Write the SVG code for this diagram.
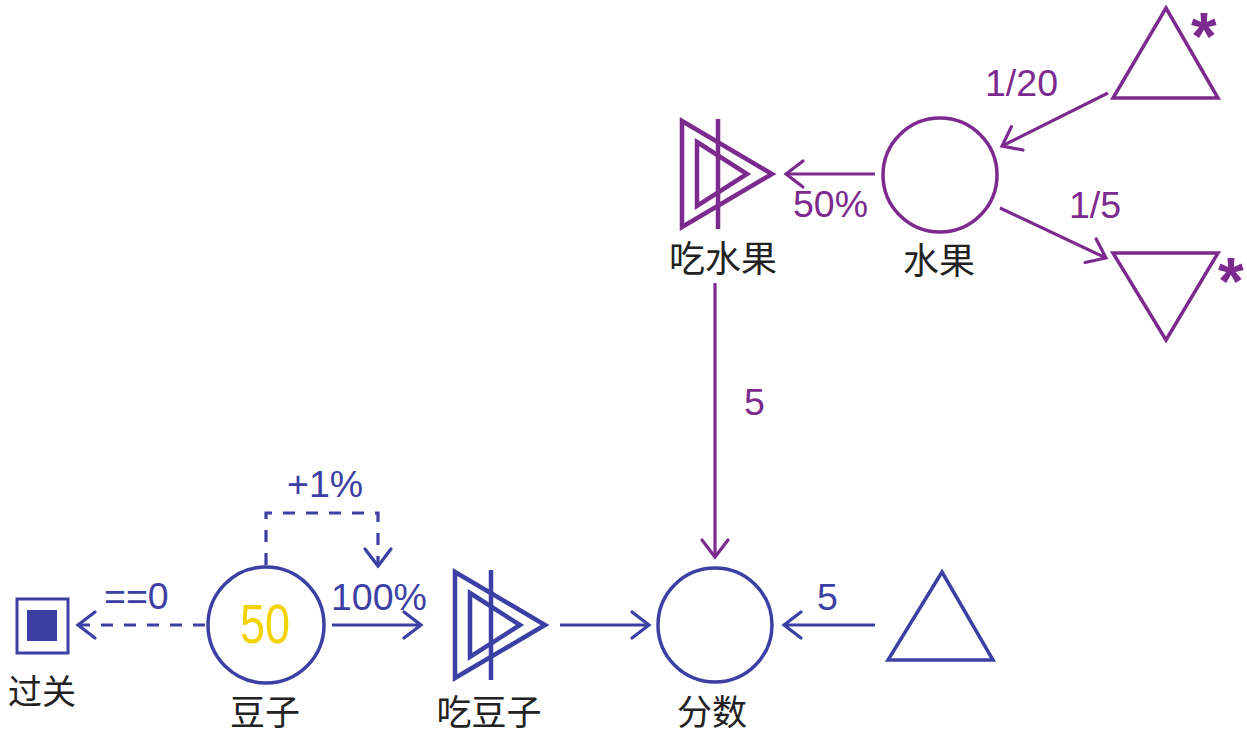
<svg xmlns="http://www.w3.org/2000/svg" xmlns:xlink="http://www.w3.org/1999/xlink" width="1247" height="736" viewBox="0 0 1247 736">
<style>
.p{stroke:#7d2a8e;fill:none}
.b{stroke:#3c3fa3;fill:none}
.shape{stroke-width:3.5}
.conv{stroke-width:4.5}
.line{stroke-width:3.2}
.dash{stroke-dasharray:12 11}
.lbl{font-family:"Liberation Sans",Arial,sans-serif;font-size:37.5px}
.lp{fill:#7d2a8e}
.lb{fill:#3c3fa3}
.cjk{font-family:"Noto Sans CJK SC","Noto Sans CJK TC",sans-serif;font-size:36px;fill:#222;text-anchor:middle}
.star{font-family:"Liberation Sans",Arial,sans-serif;font-weight:bold;font-size:66px;fill:#7d2a8e}
</style>
<defs>
<marker id="ap" markerUnits="userSpaceOnUse" orient="auto" refX="0" refY="0" overflow="visible" markerWidth="1" markerHeight="1">
<path d="M-17,-13 L0,0 L-17,13" fill="none" stroke="#7d2a8e" stroke-width="3.2" stroke-linecap="round"/>
</marker>
<marker id="ab" markerUnits="userSpaceOnUse" orient="auto" refX="0" refY="0" overflow="visible" markerWidth="1" markerHeight="1">
<path d="M-17,-13 L0,0 L-17,13" fill="none" stroke="#3c3fa3" stroke-width="3.2" stroke-linecap="round"/>
</marker>
<g id="converter">
<polygon points="0,-53 90,0 0,53"/>
<polygon points="15,-32 65,0 15,32"/>
<line x1="36" y1="-55" x2="36" y2="55"/>
</g>
</defs>
<rect width="1247" height="736" fill="#ffffff"/>

<g id="connectors">
<line class="p line" x1="1108" y1="93" x2="1002" y2="146" marker-end="url(#ap)"/>
<line class="p line" x1="875" y1="174" x2="786" y2="174" marker-end="url(#ap)"/>
<line class="p line" x1="1000" y1="208" x2="1106" y2="258" marker-end="url(#ap)"/>
<line class="p line" x1="715" y1="283" x2="715" y2="557" marker-end="url(#ap)"/>
<line class="b line" x1="332" y1="625" x2="421" y2="625" marker-end="url(#ab)"/>
<line class="b line" x1="560" y1="625" x2="649" y2="625" marker-end="url(#ab)"/>
<line class="b line" x1="875" y1="625" x2="784" y2="625" marker-end="url(#ab)"/>
<line class="b line dash" x1="205" y1="625" x2="78" y2="625" marker-end="url(#ab)"/>
<path class="b line dash" d="M266,565 V513 H378 V566" marker-end="url(#ab)"/>
<text class="lbl lp" x="985" y="96">1/20</text>
<text class="lbl lp" x="793" y="217">50%</text>
<text class="lbl lp" x="1069" y="218">1/5</text>
<text class="lbl lp" x="744" y="415">5</text>
<text class="lbl lb" x="104" y="609">==0</text>
<text class="lbl lb" x="287" y="497">+1%</text>
<text class="lbl lb" x="331" y="610">100%</text>
<text class="lbl lb" x="817" y="610">5</text>
</g>

<g id="fruit-source">
<polygon class="p shape" points="1166,8 1218,98 1113,98"/>
<text class="star" x="1191" y="59">*</text>
</g>
<g id="fruit-sink">
<polygon class="p shape" points="1113,253 1218,253 1166,340"/>
<text class="star" x="1218" y="304">*</text>
</g>
<g id="fruit">
<circle class="p shape" cx="940" cy="175" r="57"/>
<text class="cjk" x="939" y="274">水果</text>
</g>
<g id="eat-fruit">
<use xlink:href="#converter" href="#converter" class="p conv" x="682" y="174"/>
<text class="cjk" x="723" y="272">吃水果</text>
</g>
<g id="beans">
<circle class="b shape" cx="266" cy="625" r="58"/>
<text x="240" y="643" font-family="Liberation Sans, Arial, sans-serif" font-size="55" fill="#f2d200" textLength="50" lengthAdjust="spacingAndGlyphs">50</text>
<text class="cjk" x="265" y="725" style="font-size:35px">豆子</text>
</g>
<g id="level-clear">
<rect class="b" x="17" y="599" width="51" height="54" stroke-width="3"/>
<rect x="27" y="610" width="30" height="31" fill="#3c3fa3"/>
<text class="cjk" x="42" y="704" style="font-size:34px">过关</text>
</g>
<g id="eat-beans">
<use xlink:href="#converter" href="#converter" class="b conv" x="455" y="625"/>
<text class="cjk" x="489" y="725" style="font-size:35px">吃豆子</text>
</g>
<g id="score">
<circle class="b shape" cx="715" cy="625" r="57"/>
<text class="cjk" x="712" y="725" style="font-size:35px">分数</text>
</g>
<g id="score-source">
<polygon class="b shape" points="942,572 993,660 888,660"/>
</g>
</svg>
